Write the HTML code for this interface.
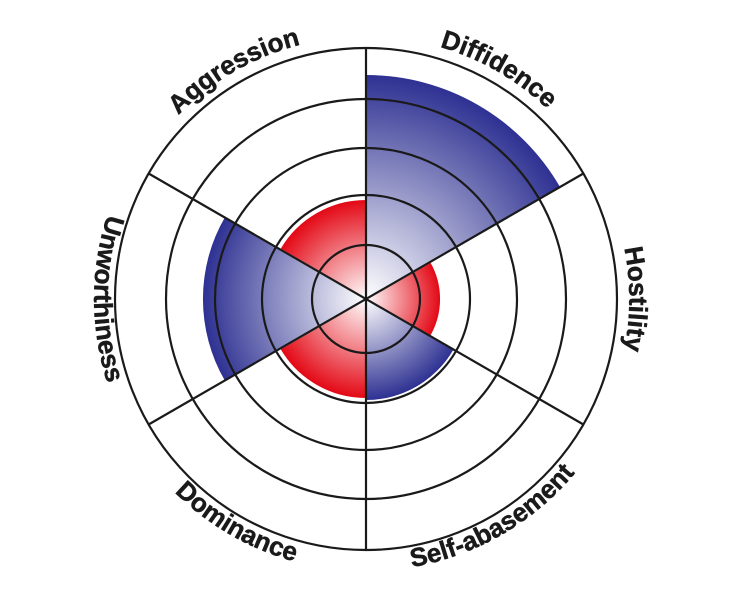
<!DOCTYPE html>
<html><head><meta charset="utf-8"><style>html,body{margin:0;padding:0;background:#fff}svg{display:block}</style></head>
<body>
<svg width="732" height="600" viewBox="0 0 732 600" xmlns="http://www.w3.org/2000/svg">
<defs>
<radialGradient id="b224" gradientUnits="userSpaceOnUse" cx="366" cy="299" r="224"><stop offset="0" stop-color="#fff"/><stop offset="1" stop-color="#2e3192"/></radialGradient>
<radialGradient id="b163" gradientUnits="userSpaceOnUse" cx="366" cy="299" r="163"><stop offset="0" stop-color="#fff"/><stop offset="1" stop-color="#2e3192"/></radialGradient>
<radialGradient id="b101" gradientUnits="userSpaceOnUse" cx="366" cy="299" r="101"><stop offset="0" stop-color="#fff"/><stop offset="1" stop-color="#2e3192"/></radialGradient>
<radialGradient id="r100" gradientUnits="userSpaceOnUse" cx="366" cy="299" r="100"><stop offset="0" stop-color="#fff"/><stop offset="1" stop-color="#e30613"/></radialGradient>
<radialGradient id="r75" gradientUnits="userSpaceOnUse" cx="366" cy="299" r="75"><stop offset="0" stop-color="#fff"/><stop offset="1" stop-color="#e30613"/></radialGradient>
<path id="pAgg" d="M123.6,387.2 A257 257 0 0 1 563.6,133.2"/>
<path id="pDif" d="M168.4,133.2 A257 257 0 0 1 608.4,387.2"/>
<path id="pHos" d="M410.8,44.9 A257 257 0 0 1 410.8,553.1"/>
<path id="pUnw" d="M319.1,31.1 A272 272 0 0 0 319.1,566.9"/>
<path id="pDom" d="M110.4,206.0 A272 272 0 0 0 574.4,473.8"/>
<path id="pSel" d="M157.6,473.8 A272 272 0 0 0 621.6,206.0"/>
</defs>
<path d="M366,299 L366,75 A224 224 0 0 1 560,187 Z" fill="url(#b224)"/>
<path d="M366,299 L431,261.5 A75 75 0 0 1 431,336.5 Z" fill="url(#r75)" stroke="#fff" stroke-width="2"/>
<path d="M366,299 L453.5,349.5 A101 101 0 0 1 366,400 Z" fill="url(#b101)"/>
<path d="M366,299 L366,399 A100 100 0 0 1 279.4,349 Z" fill="url(#r100)" stroke="#fff" stroke-width="2"/>
<path d="M366,299 L224.8,380.5 A163 163 0 0 1 224.8,217.5 Z" fill="url(#b163)"/>
<path d="M366,299 L279.4,249 A100 100 0 0 1 366,199 Z" fill="url(#r100)" stroke="#fff" stroke-width="2"/>
<g fill="none" stroke="#1a1a1a" stroke-width="2.2">
<circle cx="366" cy="299" r="251"/>
<circle cx="366" cy="299" r="200"/>
<circle cx="366" cy="299" r="151"/>
<circle cx="366" cy="299" r="104"/>
<circle cx="366" cy="299" r="54"/>
<line x1="366" y1="48" x2="366" y2="550"/>
<line x1="583.4" y1="173.5" x2="148.6" y2="424.5"/>
<line x1="583.4" y1="424.5" x2="148.6" y2="173.5"/>
</g>
<g font-family="Liberation Sans, sans-serif" font-weight="bold" font-size="26" fill="#1a1a1a" stroke="#1a1a1a" stroke-width="0.5" text-anchor="middle">
<text><textPath href="#pAgg" startOffset="50%">Aggression</textPath></text>
<text><textPath href="#pDif" startOffset="50%">Diffidence</textPath></text>
<text><textPath href="#pHos" startOffset="50%">Hostility</textPath></text>
<text><textPath href="#pUnw" startOffset="50%">Unworthiness</textPath></text>
<text><textPath href="#pDom" startOffset="50%">Dominance</textPath></text>
<text><textPath href="#pSel" startOffset="50%">Self-abasement</textPath></text>
</g>
</svg>
</body></html>
